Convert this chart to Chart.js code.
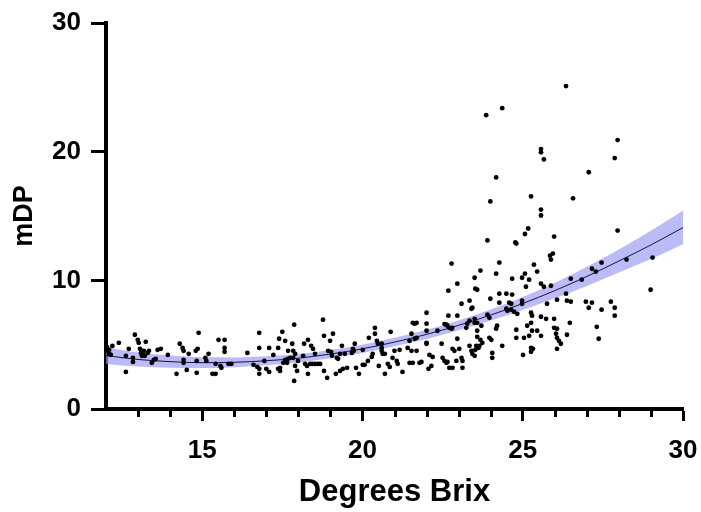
<!DOCTYPE html>
<html><head><meta charset="utf-8">
<script src="https://cdn.jsdelivr.net/npm/chart.js@4.4.1/dist/chart.umd.min.js"></script>
<style>html,body{margin:0;padding:0;background:#fff;}#wrap{width:701px;height:512px;}</style>
</head><body><div id="wrap"><canvas id="c" width="701" height="512"></canvas></div>
<script>
// Observations (Degrees Brix, mDP)
const brix = [
12.06,12.03,12.1,12.2,12.4,12.62,12.62,12.71,12.84,12.84,12.9,12.99,13.02,13.06,13.09,13.12,13.15,13.18,13.21,13.24,13.3,13.34,13.43,13.49,13.55,13.61,13.71,13.93,14.2,14.3,14.39,14.42,14.42,14.42,14.52,14.58,14.8,14.83,14.83,14.89,14.86,15.1,15.13,15.2,15.32,15.42,15.42,15.51,15.57,15.6,15.7,15.7,15.7,15.82,15.91,12.1,12.15,
16.41,16.6,16.72,16.78,16.78,16.78,16.78,16.94,17.0,17.09,17.09,17.22,17.37,17.4,17.37,17.43,17.43,17.5,17.53,17.59,17.65,17.68,17.75,17.59,17.68,17.81,17.84,17.84,17.9,17.87,17.9,17.96,17.87,17.99,18.15,18.21,18.27,18.18,18.3,18.37,18.43,18.52,18.61,18.68,18.3,18.4,18.46,18.52,18.77,18.8,18.8,18.9,18.93,19.02,19.05,18.99,19.08,19.2,19.24,19.3,19.17,19.3,19.39,19.52,19.36,19.45,19.67,19.7,19.76,
19.73,19.8,19.89,20.01,20.01,20.07,20.17,20.2,20.29,20.32,20.39,20.39,20.45,20.48,20.6,20.6,20.51,20.6,20.63,20.7,20.7,20.79,20.85,20.88,20.94,21.0,21.07,21.16,21.1,21.25,21.41,21.47,21.53,21.53,21.47,21.57,21.63,21.69,21.63,21.69,21.69,21.57,21.78,21.84,22.0,22.0,22.0,22.0,22.0,22.09,22.19,22.06,22.15,22.34,22.47,22.5,22.56,22.62,22.65,22.56,22.62,22.65,22.71,22.78,22.8,22.68,22.68,22.78,22.71,22.81,22.81,22.87,22.93,22.96,22.96,22.96,23.02,23.09,23.12,23.09,23.12,23.24,23.27,23.34,23.34,23.4,23.43,23.34,23.4,23.43,23.5,23.5,23.52,23.55,23.58,
23.9,25.07,25.98,24.8,25.94,25.85,25.88,24.27,25.35,25.45,23.68,24.17,25.07,24.98,25.2,25.1,24.67,23.58,25.57,25.66,25.88,26.5,26.84,27.16,27.28,27.46,24.27,24.49,24.67,23.99,24.27,24.58,24.64,24.98,24.98,24.49,24.52,24.64,24.73,24.83,23.9,23.96,23.5,23.5,25.26,25.29,25.76,26.07,26.38,26.5,26.35,26.97,27.06,27.16,27.46,25.57,25.73,25.98,25.26,25.14,25.29,25.2,25.04,23.58,23.71,23.58,24.17,24.2,23.96,24.02,23.68,23.74,23.65,23.58,23.52,23.62,24.05,24.05,24.36,24.8,24.8,25.01,25.26,25.32,25.26,25.45,25.57,25.98,26.07,26.04,26.07,26.13,26.19,26.07,26.38,26.47,27.31,27.37,28.24,29.05,28.99,27.75,27.87,27.87,
26.35,24.36,23.86,27.96,25.57,25.57,25.66,27.87,27.06,24.17,23.99,25.26,26.57,25.57,25.57,25.17,27.96,24.77
];
const mdp = [
4.52,4.8,4.3,4.9,5.14,4.13,2.88,4.68,3.98,3.66,5.77,5.38,5.14,4.68,4.36,4.13,4.29,4.52,4.13,5.22,4.36,4.52,3.59,3.82,3.9,4.6,4.68,4.2,2.73,5.07,4.75,4.52,3.82,3.59,3.04,4.29,4.52,3.74,2.81,5.92,4.68,3.98,3.74,4.29,2.73,2.73,3.51,5.38,3.35,3.2,5.38,4.75,4.44,3.51,3.51,4.6,4.2,
4.36,3.43,3.27,5.92,4.75,3.12,2.73,3.74,3.12,2.88,4.75,4.2,4.75,5.46,3.12,3.2,2.96,6.0,3.59,3.82,3.59,3.9,3.98,5.3,4.52,5.07,4.52,3.98,4.29,6.55,3.35,2.96,2.18,3.74,4.13,3.51,3.35,5.07,5.38,3.5,3.5,3.5,3.5,3.5,2.73,4.91,4.68,4.29,6.94,5.69,2.96,2.42,4.52,4.44,4.13,5.3,5.85,3.98,3.9,4.29,2.73,2.96,3.12,3.2,4.91,4.29,4.36,4.68,5.07,
4.52,3.2,2.73,4.6,3.43,3.43,3.74,5.53,4.05,4.29,6.31,5.85,5.3,5.07,5.07,4.75,3.35,4.52,4.29,4.29,2.73,3.51,3.27,6.0,3.98,4.52,3.74,4.6,3.51,2.88,4.75,5.3,5.85,4.52,3.59,6.7,6.63,6.7,5.46,5.53,4.52,3.59,3.59,3.66,7.48,6.63,6.08,5.14,5.07,4.2,4.05,3.12,3.35,6.08,5.07,3.98,3.74,3.59,3.66,6.6,6.55,6.47,6.31,6.24,6.31,9.2,7.25,11.3,3.2,3.2,4.68,4.52,3.74,9.74,7.25,5.46,4.68,3.98,3.74,8.18,3.2,6.31,6.63,6.86,8.42,7.79,7.87,4.91,4.52,4.29,4.13,10.2,9.35,4.91,6.08,
13.1,13.6,13.4,12.86,12.08,11.92,11.61,11.38,11.22,10.68,10.76,10.52,10.52,10.2,10.05,9.5,10.13,9.27,9.74,9.5,9.58,10.13,10.05,10.9,10.68,11.38,8.96,8.96,8.89,8.57,8.26,8.26,8.18,8.42,8.18,7.79,7.64,7.72,7.56,7.4,7.33,7.09,7.01,6.7,7.48,7.25,8.18,8.5,8.42,8.34,8.96,8.34,7.87,8.26,7.72,7.17,7.01,7.01,6.7,6.47,6.08,5.69,5.53,6.7,6.47,5.61,6.24,6.47,5.53,5.38,5.38,5.14,4.91,4.75,4.6,4.75,4.36,3.98,4.91,6.16,5.53,4.2,4.75,4.68,4.44,6.08,5.69,6.31,6.24,5.85,5.53,5.3,5.07,4.68,5.77,6.7,6.39,5.46,11.61,11.77,9.27,8.34,7.87,7.25,
25.1,23.38,22.84,20.9,20.2,19.95,19.4,19.5,18.4,18.0,16.13,16.52,16.37,15.5,15.04,14.03,13.87,12.94
];
// Fitted curve and its confidence band
const fitX = [12,13,14,15,16,17,18,19,20,21,22,23,24,25,26,27,28,29,30];
const fitY = [4.15,3.85,3.68,3.6,3.63,3.75,3.95,4.27,4.68,5.2,5.8,6.5,7.3,8.2,9.2,10.3,11.5,12.75,14.1];
const bandLow = [3.5,3.3,3.21,3.18,3.25,3.4,3.62,3.95,4.36,4.87,5.45,6.12,6.87,7.7,8.6,9.55,10.6,11.65,12.8];
const bandHigh = [4.8,4.4,4.15,4.02,4.01,4.1,4.28,4.59,5.0,5.53,6.15,6.88,7.73,8.7,9.8,11.05,12.4,13.85,15.4];
const xTickLabels = [15,20,25,30];
const yTickLabels = [0,10,20,30];

const pts = brix.map((x,i)=>({x:x,y:mdp[i]}));
const curve = fitX.map((x,i)=>({x:x,y:fitY[i]}));
const low = fitX.map((x,i)=>({x:x,y:bandLow[i]}));
const high = fitX.map((x,i)=>({x:x,y:bandHigh[i]}));

const FONT = "'Liberation Sans', Arial, sans-serif";

const minorTicks = {
  id:'minorTicks',
  afterDraw(chart){
    const s = chart.scales.x, ctx = chart.ctx, b = chart.chartArea.bottom;
    ctx.save(); ctx.strokeStyle='#000'; ctx.lineWidth=3;
    for (let v = 13; v < 30; v++) {
      if (xTickLabels.includes(v)) continue;
      const p = Math.round(s.getPixelForValue(v)) + 0.5;
      ctx.beginPath(); ctx.moveTo(p, b); ctx.lineTo(p, b + 8); ctx.stroke();
    }
    ctx.restore();
  }
};

new Chart(document.getElementById('c'), {
  type:'scatter',
  data:{ datasets:[
    {type:'scatter', data:pts, pointRadius:2.4, pointHoverRadius:2.4, backgroundColor:'#000', borderColor:'#000', borderWidth:0, order:0},
    {type:'line', data:curve, borderColor:'#14143a', borderWidth:1, pointRadius:0, fill:false, cubicInterpolationMode:'monotone', order:1},
    {type:'line', data:high, borderColor:'rgba(0,0,0,0)', borderWidth:0, pointRadius:0, fill:'+1', backgroundColor:'rgba(150,150,242,0.65)', cubicInterpolationMode:'monotone', order:2},
    {type:'line', data:low, borderColor:'rgba(0,0,0,0)', borderWidth:0, pointRadius:0, fill:false, cubicInterpolationMode:'monotone', order:3}
  ]},
  options:{
    responsive:false, animation:false,
    layout:{padding:{left:0,right:18,top:23,bottom:0}},
    plugins:{legend:{display:false}, tooltip:{enabled:false}},
    scales:{
      x:{type:'linear', min:12, max:30, position:'bottom',
        ticks:{stepSize:1, autoSkip:false, maxRotation:0, color:'#000', padding:14,
          font:{family:FONT, size:26, weight:'bold'},
          callback:(v)=> xTickLabels.includes(v) ? String(v) : ''},
        grid:{drawOnChartArea:false, drawTicks:true, tickLength:12, tickWidth:3,
          tickColor:(c)=> (c.tick && xTickLabels.includes(c.tick.value)) ? '#000' : 'rgba(0,0,0,0)'},
        border:{display:true, color:'#000', width:4},
        title:{display:true, text:'Degrees Brix', color:'#000', font:{family:FONT, size:31, weight:'bold'}, padding:{top:0,bottom:1}},
        afterFit:(s)=>{ s.height = 103; s.paddingLeft = 0; s.paddingRight = 0; }
      },
      y:{type:'linear', min:0, max:30, position:'left',
        ticks:{stepSize:10, color:'#000', padding:10, font:{family:FONT, size:26, weight:'bold'},
          callback:(v)=> yTickLabels.includes(v) ? String(v) : ''},
        grid:{drawOnChartArea:false, drawTicks:true, tickLength:15, tickWidth:3, tickColor:'#000'},
        border:{display:true, color:'#000', width:4},
        title:{display:true, text:'mDP', color:'#000', font:{family:FONT, size:27, weight:'bold'}, padding:{top:8,bottom:0}},
        afterFit:(s)=>{ s.width = 106; s.paddingTop = 0; s.paddingBottom = 0; }
      }
    }
  },
  plugins:[minorTicks]
});
</script></body></html>
